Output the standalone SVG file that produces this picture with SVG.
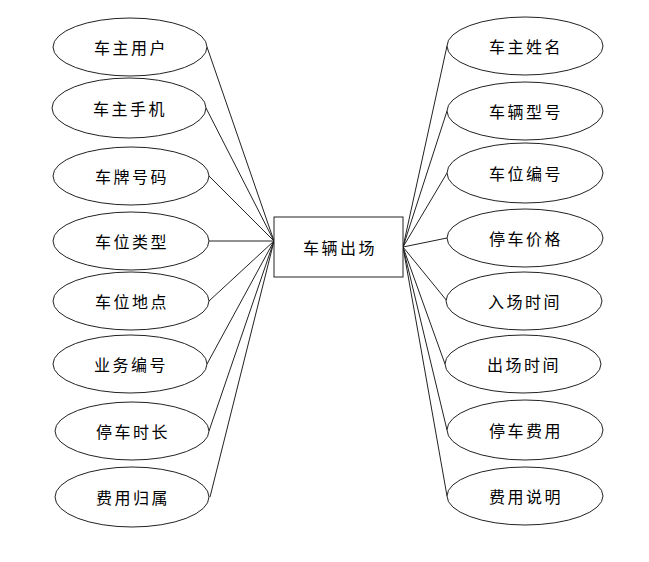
<svg xmlns="http://www.w3.org/2000/svg" width="649" height="562" viewBox="0 0 649 562">
<style>
.n ellipse,.n rect{fill:#fff;stroke:#222;stroke-width:1}
.n text{font-family:"Noto Sans CJK SC","Noto Sans",sans-serif;font-size:16px;fill:#000;text-anchor:middle;dominant-baseline:central;letter-spacing:2.5px}
#edges line{stroke:#222;stroke-width:1}
</style>
<rect width="649" height="562" fill="#fff"/>
<g id="edges">
<line x1="207" y1="47" x2="274" y2="241"/>
<line x1="206" y1="108" x2="274" y2="241"/>
<line x1="209" y1="176" x2="274" y2="241"/>
<line x1="209" y1="241" x2="274" y2="241"/>
<line x1="209" y1="301" x2="274" y2="241"/>
<line x1="207" y1="364" x2="274" y2="241"/>
<line x1="209" y1="431" x2="274" y2="241"/>
<line x1="210" y1="497" x2="274" y2="241"/>
<line x1="447" y1="46" x2="403" y2="247"/>
<line x1="447" y1="111" x2="403" y2="247"/>
<line x1="447" y1="173" x2="403" y2="247"/>
<line x1="447" y1="238" x2="403" y2="247"/>
<line x1="447" y1="301" x2="403" y2="247"/>
<line x1="445" y1="364" x2="403" y2="247"/>
<line x1="447" y1="430" x2="403" y2="247"/>
<line x1="447" y1="496" x2="403" y2="247"/>
</g>
<g id="center" class="n"><rect x="274" y="217" width="129" height="60"/><text x="340" y="247">车辆出场</text></g>
<g id="l1" class="n"><ellipse cx="130" cy="47" rx="77" ry="29"/><text x="131" y="47">车主用户</text></g>
<g id="l2" class="n"><ellipse cx="129" cy="108" rx="77" ry="30"/><text x="130" y="108">车主手机</text></g>
<g id="l3" class="n"><ellipse cx="131" cy="176" rx="78" ry="29"/><text x="132" y="176">车牌号码</text></g>
<g id="l4" class="n"><ellipse cx="131" cy="241" rx="78" ry="29"/><text x="132" y="241">车位类型</text></g>
<g id="l5" class="n"><ellipse cx="131" cy="301" rx="78" ry="29"/><text x="132" y="301">车位地点</text></g>
<g id="l6" class="n"><ellipse cx="130" cy="364" rx="77" ry="29"/><text x="131" y="364">业务编号</text></g>
<g id="l7" class="n"><ellipse cx="132" cy="431" rx="77" ry="29"/><text x="133" y="431">停车时长</text></g>
<g id="l8" class="n"><ellipse cx="132" cy="497" rx="77" ry="30"/><text x="133" y="497">费用归属</text></g>
<g id="r1" class="n"><ellipse cx="525" cy="46" rx="78" ry="29"/><text x="526" y="46">车主姓名</text></g>
<g id="r2" class="n"><ellipse cx="525" cy="111" rx="78" ry="29"/><text x="526" y="111">车辆型号</text></g>
<g id="r3" class="n"><ellipse cx="525" cy="173" rx="78" ry="30"/><text x="526" y="173">车位编号</text></g>
<g id="r4" class="n"><ellipse cx="525" cy="238" rx="78" ry="29"/><text x="526" y="238">停车价格</text></g>
<g id="r5" class="n"><ellipse cx="524" cy="301" rx="78" ry="29"/><text x="525" y="301">入场时间</text></g>
<g id="r6" class="n"><ellipse cx="523" cy="364" rx="78" ry="29"/><text x="524" y="364">出场时间</text></g>
<g id="r7" class="n"><ellipse cx="525" cy="430" rx="78" ry="30"/><text x="526" y="430">停车费用</text></g>
<g id="r8" class="n"><ellipse cx="525" cy="496" rx="78" ry="29"/><text x="526" y="496">费用说明</text></g>
</svg>
